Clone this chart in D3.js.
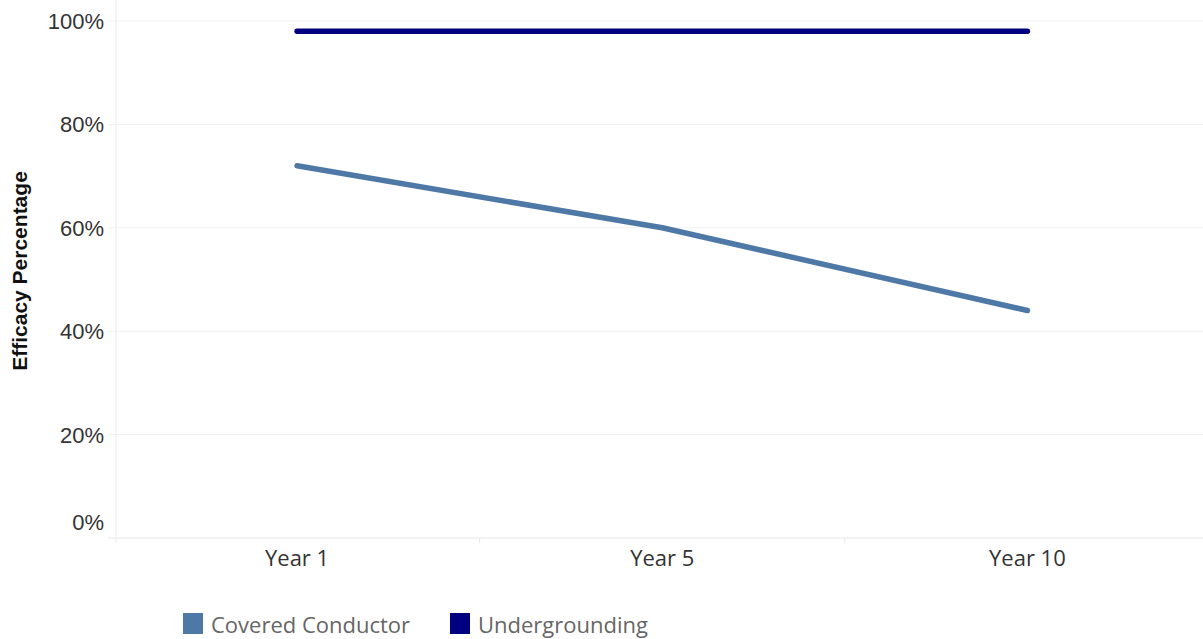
<!DOCTYPE html>
<html>
<head>
<meta charset="utf-8">
<script src="https://cdn.jsdelivr.net/npm/d3@7"></script>
<style>
  body { margin: 0; background: #fff; }
  text { font-family: "Open Sans", "Noto Sans", sans-serif; }
</style>
</head>
<body>
<div id="chart"></div>
<script>
// ======================================
// Data
// ======================================
var years = ["Year 1", "Year 5", "Year 10"];
var seriesNames = ["Covered Conductor", "Undergrounding"];
var coveredConductor = [0.72, 0.60, 0.44];
var undergrounding = [0.98, 0.98, 0.98];
var yTicks = [0, 0.2, 0.4, 0.6, 0.8, 1.0];
var seriesColors = ["#4e79a7", "#000080"];

var svgWidth = 1203;
var svgHeight = 639;

var svg = d3.select("#chart")
  .append("svg")
  .attr("width", svgWidth)
  .attr("height", svgHeight);

// plot area
var plotLeft = 116;
var plotRight = 1210;
var plotTop = 21;
var plotBottom = 538;

var xScale = d3.scaleBand()
  .domain(years)
  .range([plotLeft - 1.5, plotRight]);

var yScale = d3.scaleLinear()
  .domain([0, 1])
  .range([plotBottom, plotTop]);

// gridlines
svg.append("g")
  .selectAll("line")
  .data(yTicks)
  .enter()
  .append("line")
  .attr("x1", 108)
  .attr("x2", svgWidth)
  .attr("y1", d => yScale(d))
  .attr("y2", d => yScale(d))
  .attr("stroke", d => d === 0 ? "#e6e6e6" : "#f0f0f0")
  .attr("stroke-width", 1);

// y axis line
svg.append("line")
  .attr("x1", plotLeft)
  .attr("x2", plotLeft)
  .attr("y1", 0)
  .attr("y2", 543)
  .attr("stroke", "#ececec");

// band dividers below baseline
svg.append("g")
  .selectAll("line")
  .data(years.slice(1))
  .enter()
  .append("line")
  .attr("x1", d => xScale(d))
  .attr("x2", d => xScale(d))
  .attr("y1", plotBottom)
  .attr("y2", plotBottom + 5)
  .attr("stroke", "#e6e6e6");

// y tick labels
svg.append("g")
  .selectAll("text")
  .data(yTicks)
  .enter()
  .append("text")
  .attr("x", 104)
  .attr("y", d => d === 0 ? yScale(d) - 16 : yScale(d))
  .attr("dy", "0.36em")
  .attr("text-anchor", "end")
  .style("font-family", "'Liberation Sans', Arial, sans-serif")
  .style("font-size", "22px")
  .attr("fill", "#333")
  .text(d => d3.format(".0%")(d));

// x labels
svg.append("g")
  .selectAll("text")
  .data(years)
  .enter()
  .append("text")
  .attr("x", d => xScale(d) + xScale.bandwidth() / 2)
  .attr("y", 558)
  .attr("dy", "0.35em")
  .attr("text-anchor", "middle")
  .style("font-size", "22px")
  .attr("fill", "#333")
  .text(d => d);

// y axis title
svg.append("text")
  .attr("transform", "translate(20, 271) rotate(-90)")
  .attr("dy", "0.35em")
  .attr("text-anchor", "middle")
  .style("font-family", "'Liberation Sans', Arial, sans-serif")
  .style("font-size", "21px")
  .style("font-weight", "bold")
  .attr("fill", "#111")
  .text("Efficacy Percentage");

// lines
var line = d3.line()
  .x((d, i) => xScale(years[i]) + xScale.bandwidth() / 2)
  .y(d => yScale(d));

[coveredConductor, undergrounding].forEach((values, i) => {
  svg.append("path")
    .datum(values)
    .attr("d", line)
    .attr("fill", "none")
    .attr("stroke", seriesColors[i])
    .attr("stroke-width", 5.5)
    .attr("stroke-linecap", "round")
    .attr("stroke-linejoin", "round");
});

// legend
var legendX = [183, 450];
seriesNames.forEach((name, i) => {
  svg.append("rect")
    .attr("x", legendX[i])
    .attr("y", 613)
    .attr("width", 20)
    .attr("height", 21)
    .attr("fill", seriesColors[i]);
  svg.append("text")
    .attr("x", legendX[i] + 28)
    .attr("y", 625)
    .attr("dy", "0.35em")
    .style("font-size", "22px")
    .attr("fill", "#666")
    .text(name);
});
</script>
</body>
</html>
